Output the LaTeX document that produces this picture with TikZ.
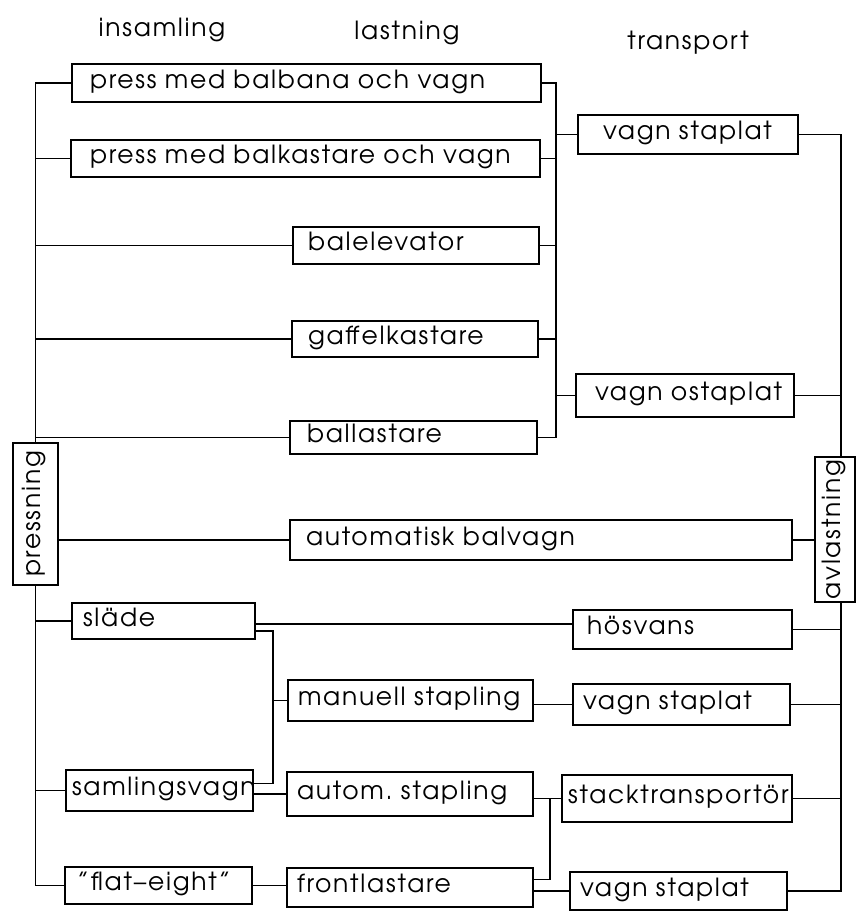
\documentclass[tikz,border=0pt]{standalone}
\usepackage{fontspec}
\setmainfont[LetterSpace=7,WordSpace=1.4]{TeX Gyre Adventor}
\usetikzlibrary{calc}
\frenchspacing
\tikzset{
  bx/.style={draw, line width=1.2pt, rectangle, inner sep=0pt, align=left,
    font=\fontsize{25}{27}\selectfont, text height=15pt, text depth=5pt},
  vbx/.style={draw, line width=1.2pt, rectangle, inner sep=0pt, rotate=90,
    font=\fontsize{25}{27}\selectfont, text height=15pt, text depth=5pt},
  hdr/.style={font=\fontsize{25}{27}\selectfont, anchor=base},
  ln/.style={line width=1.2pt}
}
\newcommand\pbox[7]{%
  \pgfmathsetmacro\bw{#4-#2}%
  \pgfmathsetmacro\bh{#5-#3}%
  \node[bx, minimum width=\bw pt, minimum height=\bh pt, text width=\bw pt]
     (#1) at ({(#2+#4)/2},{(#3+#5)/2}) {\hspace*{#6pt}\mbox{#7}};}
\begin{document}
\begin{tikzpicture}[x=1pt,y=-1pt]
\useasboundingbox (0,0) rectangle (857,913);
% headers
\node[hdr] (h1) at (162,36) {insamling};
\node[hdr] (h2) at (407,39) {lastning};
\node[hdr] (h3) at (688,49) {transport};
% boxes
\pbox{b1}{72}{64}{541}{102}{18}{press med balbana och vagn}
\pbox{b2}{71}{140}{540}{177}{19}{press med balkastare och vagn}
\pbox{bel}{293}{227}{539}{264}{15}{balelevator}
\pbox{gaf}{292}{321}{538}{357}{16}{gaffelkastare}
\pbox{bal}{290}{421}{537}{454}{17}{ballastare}
\pbox{vsa}{578}{115}{798}{154}{25}{vagn staplat}
\pbox{vo}{576}{374}{794}{417}{19}{vagn ostaplat}
\pbox{aut}{290}{520}{792}{560}{16}{automatisk balvagn}
\pbox{sl}{72}{603}{255}{639}{11}{släde}
\pbox{hv}{573}{610}{792}{649}{14}{hösvans}
\pbox{man}{288}{680}{533}{721}{10}{manuell stapling}
\pbox{vsb}{573}{684}{790}{725}{10}{vagn staplat}
\pbox{sam}{66}{770}{253}{811}{6}{samlingsvagn}
\pbox{ast}{287}{772}{533}{816}{10}{autom. stapling}
\pbox{st}{562}{775}{792}{822}{6}{stacktransportör}
\pbox{fe}{65}{867}{252}{904}{12}{"flat--eight"}
\pbox{fl}{287}{868}{533}{907}{10}{frontlastare}
\pbox{vsc}{570}{872}{787}{910}{10}{vagn staplat}
\node[vbx, minimum width=142pt, minimum height=45pt] (pr) at (35.5,514) {pressning};
\node[vbx, minimum width=145pt, minimum height=40pt] (av) at (835,529.5) {avlastning};
% junction columns
\coordinate (L) at (556,0);
\coordinate (R) at (841,0);
\coordinate (J1) at (273,0);
\coordinate (J2) at (550,0);
\coordinate (sla) at ($(sl.east)+(0,3)$);
\coordinate (slb) at ($(sl.east)+(0,10)$);
\coordinate (sama) at ($(sam.east)+(0,-7)$);
\coordinate (fla) at ($(fl.east)+(0,-8)$);
% left bus (insamling)
\draw[ln] (b1.west) -| (pr.east);
\foreach \n in {b2,bel,gaf,bal} \draw[ln] (\n.west) -- (\n.west -| pr.east);
\draw[ln] (pr.west) |- (fe.west);
\foreach \n in {sl,sam} \draw[ln] (\n.west) -- (\n.west -| pr.west);
\draw[ln] (pr.south |- aut.west) -- (aut.west);
% lastning bus
\draw[ln] (b1.east) -| (L |- bal.east) -- (bal.east);
\foreach \n in {b2,bel,gaf} \draw[ln] (\n.east) -- (\n.east -| L);
\foreach \n in {vsa,vo} \draw[ln] (\n.west) -- (\n.west -| L);
% avlastning bus
\draw[ln] (vsa.east) -| (R |- av.east);
\draw[ln] (vo.east) -- (vo.east -| R);
\draw[ln] (aut.east) -- (aut.east -| av.north);
\draw[ln] (R |- av.west) |- (vsc.east);
\foreach \n in {hv,vsb,st} \draw[ln] (\n.east) -- (\n.east -| R);
% lower network
\draw[ln] (sla) -- (sla -| hv.west);
\draw[ln] (slb) -| (J1 |- sama) -- (sama);
\draw[ln] (man.west) -- (man.west -| J1);
\draw[ln] (vsb.west -| man.east) -- (vsb.west);
\draw[ln] (ast.west -| sam.east) -- (ast.west);
\draw[ln] (st.west -| ast.east) -- (st.west);
\draw[ln] (fla) -| (J2 |- st.west);
\draw[ln] (fe.east) -- (fe.east -| fl.west);
\draw[ln] (vsc.west -| fl.east) -- (vsc.west);
\end{tikzpicture}
\end{document}
